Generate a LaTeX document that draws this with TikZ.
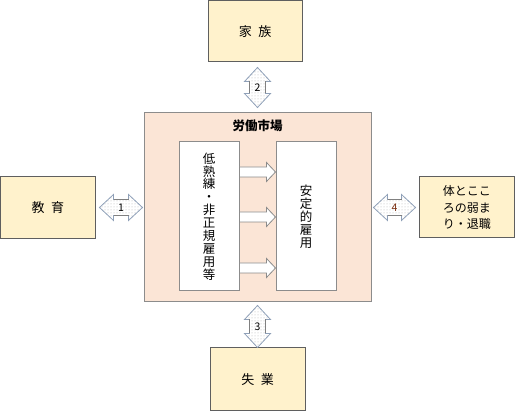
\documentclass[tikz,border=0pt]{standalone}
\usepackage{fontspec}
\setmainfont{Noto Sans CJK JP}
\usetikzlibrary{calc,patterns}

\definecolor{boxyellow}{HTML}{FFF2CC}
\definecolor{marketpeach}{HTML}{FBE5D6}
\definecolor{edgegray}{HTML}{5F5F5F}
\definecolor{linegray}{HTML}{8C8C8C}
\definecolor{arrowblue}{HTML}{8FA0B8}
\definecolor{numred}{HTML}{7A2E10}

\tikzset{
  outerbox/.style={draw=edgegray, fill=boxyellow, line width=1pt, inner sep=0pt,
    font=\fontsize{13}{15}\selectfont},
  innerbox/.style={draw=linegray, fill=white, line width=1pt, inner sep=0pt,
    align=center, font=\fontsize{12.5}{12.9}\selectfont},
  dblarr/.style={draw=arrowblue, line width=0.8pt, preaction={fill=white},
    pattern=dots, pattern color=black!30},
  shaftedge/.style={draw=gray, line width=1.6pt},
  smallarr/.style={draw=linegray, fill=white, line width=0.8pt},
  numlabel/.style={inner sep=0pt, font=\fontsize{10.5}{10.5}\selectfont}
}

% block arrow with heads on both ends: start, end, text, name
\newcommand{\dblarrow}[4]{%
  \coordinate (s) at (#1);
  \coordinate (t) at (#2);
  \coordinate (sh) at ($(s)!14pt!(t)$);
  \coordinate (th) at ($(t)!14pt!(s)$);
  \draw[dblarr] (s) -- ($(sh)!13pt!90:(t)$) -- ($(sh)!8pt!90:(t)$)
    -- ($(th)!8pt!-90:(s)$) -- ($(th)!13pt!-90:(s)$) -- (t)
    -- ($(th)!13pt!90:(s)$) -- ($(th)!8pt!90:(s)$)
    -- ($(sh)!8pt!-90:(t)$) -- ($(sh)!13pt!-90:(t)$) -- cycle;
  \draw[shaftedge] ($(sh)!8pt!90:(t)$) -- ($(th)!8pt!-90:(s)$);
  \draw[shaftedge] ($(th)!8pt!90:(s)$) -- ($(sh)!8pt!-90:(t)$);
  \node[numlabel] (#4) at ($(s)!0.5!(t)$) {#3};
}

\begin{document}
\begin{tikzpicture}[x=1pt,y=-1pt]
	\useasboundingbox (0,0) rectangle (515,411);

	%labour market
	\node[draw=linegray, fill=marketpeach, line width=1pt, minimum width=227pt,
	  minimum height=189pt] (market) at (257.5,207.5) {};
	\node[font=\fontsize{12.5}{14}\selectfont\bfseries] (title) at ($(market.north)+(0,13)$) {労働市場};
	\node[innerbox, minimum width=60pt, minimum height=149pt] (lowskill) at (209,216.5)
	  {低\\熟\\練\\・\\非\\正\\規\\雇\\用\\等};
	\node[innerbox, minimum width=60pt, minimum height=149pt] (stable) at (306,216.5)
	  {安\\定\\的\\雇\\用};

	%outer boxes
	\node[outerbox, minimum width=94pt, minimum height=61.5pt] (family) at (255,31.25) {家\enspace 族};
	\node[outerbox, minimum width=94.5pt, minimum height=62pt] (edu) at (47.75,207.5) {教\enspace 育};
	\node[outerbox, minimum width=95pt, minimum height=62.5pt] (unemp) at (257.5,379.25) {失\enspace 業};
	\node[outerbox, minimum width=95.5pt, minimum height=61pt, align=center,
	  font=\fontsize{12}{16.5}\selectfont] (health) at (466.75,207.5) {体とここ\\ろの弱ま\\り・退職};

	%arrows inside the market
	\foreach \y in {172,217,268}{
		\coordinate (a) at (lowskill.east |- 0,\y);
		\coordinate (b) at (stable.west |- 0,\y);
		\draw[smallarr] ($(a)+(0,-5)$) -- ($(b)+(-9,-5)$) -- ($(b)+(-9,-9.5)$) -- (b)
		  -- ($(b)+(-9,9.5)$) -- ($(b)+(-9,5)$) -- ($(a)+(0,5)$) -- cycle;
	}

	%links
	\dblarrow{$(edu.east)+(4,0)$}{$(market.west)+(-1,0)$}{1}{link1}
	\dblarrow{$(family.south -| market.north)+(0,5)$}{$(market.north)+(0,-5)$}{2}{link2}
	\dblarrow{$(market.south)+(0,3)$}{unemp.north -| market.south}{3}{link3}
	\dblarrow{$(market.east)+(2,0)$}{$(health.west)+(-3,0)$}{\textcolor{numred}{4}}{link4}
\end{tikzpicture}
\end{document}
